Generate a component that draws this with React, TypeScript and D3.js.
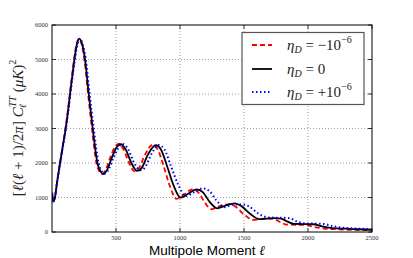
import React from "react";
import * as d3 from "d3";

const xTicks = [500, 1000, 1500, 2000, 2500];
const yTicks = [0, 1000, 2000, 3000, 4000, 5000, 6000];

const seriesMinus: [number, number][] = [[2,1150],[8,900],[20,960],[40,1470],[62,2000],[84,2500],[105,3000],[123,3500],[139,4000],[155,4500],[172,5000],[192,5450],[210,5600],[231,5450],[253,5000],[282,4000],[312,3000],[347,2000],[371,1750],[392,1680],[419,1800],[454,2150],[486,2430],[521,2560],[558,2400],[602,2000],[645,1760],[679,1850],[728,2250],[786,2530],[825,2400],[873,1900],[921,1330],[973,960],[1028,1080],[1098,1235],[1145,1140],[1193,860],[1246,660],[1305,740],[1387,810],[1435,730],[1503,500],[1572,350],[1630,375],[1690,390],[1738,370],[1785,285],[1834,215],[1900,210],[1980,205],[2050,145],[2125,100],[2230,80],[2330,65],[2500,50]];

const seriesZero: [number, number][] = [[2,1050],[8,880],[20,950],[40,1450],[63,2000],[85,2500],[107,3000],[125,3500],[141,4000],[158,4500],[175,5000],[195,5450],[214,5600],[235,5450],[258,5000],[287,4000],[318,3000],[355,2000],[380,1750],[402,1680],[430,1800],[467,2150],[500,2430],[537,2550],[575,2400],[620,2000],[665,1770],[700,1850],[750,2250],[810,2520],[850,2400],[900,1900],[950,1350],[1005,995],[1060,1100],[1130,1237],[1180,1150],[1230,880],[1290,687],[1350,760],[1430,832],[1480,750],[1550,520],[1620,375],[1680,390],[1740,400],[1790,385],[1840,300],[1890,235],[1960,230],[2040,225],[2110,160],[2190,115],[2300,95],[2400,80],[2500,65]];

const seriesPlus: [number, number][] = [[2,1100],[8,880],[20,950],[40,1430],[64,2000],[87,2500],[109,3000],[128,3500],[144,4000],[161,4500],[179,5000],[199,5450],[218,5600],[240,5450],[264,5000],[294,4000],[326,3000],[364,2000],[390,1750],[412,1690],[443,1820],[482,2160],[517,2430],[552,2550],[595,2400],[642,2000],[690,1790],[726,1870],[777,2260],[834,2520],[878,2400],[930,1900],[985,1380],[1045,1040],[1103,1140],[1180,1265],[1232,1180],[1283,920],[1350,720],[1410,790],[1490,800],[1540,740],[1610,540],[1690,420],[1750,415],[1810,410],[1860,395],[1910,310],[1965,255],[2040,245],[2120,235],[2190,175],[2270,125],[2380,100],[2450,90],[2500,80]];

const legendLabels = ["−10", "0", "+10"];

const L = 52, R = 372, T = 25, B = 232;

export default function App() {
  const x = d3.scaleLinear().domain([0, 2500]).range([L, R]);
  const y = d3.scaleLinear().domain([0, 6000]).range([B, T]);
  const line = d3.line<[number, number]>().x(d => x(d[0])).y(d => y(d[1])).curve(d3.curveMonotoneX);
  const tickFont = { fontFamily: "Liberation Serif, DejaVu Serif, serif", fontSize: 6.5, fill: "#333" };
  const mathFont = "Liberation Serif, DejaVu Serif, serif";
  const styles = [
    { color: "#ff0000", dash: "5,3", w: 1.8 },
    { color: "#000000", dash: "", w: 1.8 },
    { color: "#0000ff", dash: "1.5,2.5", w: 2 },
  ];
  const data = [seriesMinus, seriesZero, seriesPlus];
  const legendY = [45, 69, 92];
  return (
    <svg width={413} height={258} style={{ position: "absolute", left: 0, top: 0, background: "#fff" }}>
      <rect x={0} y={0} width={413} height={258} fill="#fff" />
      {xTicks.filter(t => t < 2500).map(t => (
        <line key={"gx" + t} x1={x(t)} x2={x(t)} y1={T} y2={B} stroke="#888" strokeWidth={0.8} strokeDasharray="1,2" />
      ))}
      {yTicks.filter(t => t > 0 && t < 6000).map(t => (
        <line key={"gy" + t} x1={L} x2={R} y1={y(t)} y2={y(t)} stroke="#888" strokeWidth={0.8} strokeDasharray="1,2" />
      ))}
      <defs>
        <clipPath id="clip"><rect x={L} y={T} width={R - L} height={B - T} /></clipPath>
      </defs>
      <g clipPath="url(#clip)">
        {data.map((d, i) => (
          <path key={i} d={line(d) || ""} fill="none" stroke={styles[i].color} strokeWidth={styles[i].w} strokeDasharray={styles[i].dash} />
        ))}
      </g>
      {xTicks.map(t => (
        <g key={"tx" + t}>
          <line x1={x(t)} x2={x(t)} y1={B} y2={B - 4} stroke="#000" strokeWidth={0.8} />
          <line x1={x(t)} x2={x(t)} y1={T} y2={T + 4} stroke="#000" strokeWidth={0.8} />
          <text x={x(t)} y={239.5} textAnchor="middle" {...tickFont}>{t}</text>
        </g>
      ))}
      {yTicks.map(t => (
        <g key={"ty" + t}>
          <line x1={L} x2={L + 4} y1={y(t)} y2={y(t)} stroke="#000" strokeWidth={0.8} />
          <line x1={R} x2={R - 4} y1={y(t)} y2={y(t)} stroke="#000" strokeWidth={0.8} />
          <text x={48} y={y(t) + 2.3} textAnchor="end" {...tickFont}>{t}</text>
        </g>
      ))}
      <rect x={L} y={T} width={R - L} height={B - T} fill="none" stroke="#000" strokeWidth={1} />
      <text x={207} y={254.5} textAnchor="middle" fontFamily="Liberation Sans, Arial, sans-serif" fontSize={13.5} fill="#000">
        Multipole Moment <tspan fontFamily={mathFont} fontStyle="italic">ℓ</tspan>
      </text>
      <text transform="translate(23,128) rotate(-90)" textAnchor="middle" fontFamily={mathFont} fontSize={15} fill="#222">
        <tspan>[</tspan><tspan fontStyle="italic">ℓ</tspan><tspan>(</tspan><tspan fontStyle="italic">ℓ</tspan><tspan> + 1)/2</tspan><tspan fontStyle="italic">π</tspan><tspan>] </tspan>
        <tspan fontStyle="italic">C</tspan>
        <tspan fontStyle="italic" fontSize={10} dy={-7}>TT</tspan>
        <tspan fontStyle="italic" fontSize={10} dx={-12} dy={10}>ℓ</tspan>
        <tspan dx={8} dy={-3}> (</tspan><tspan fontStyle="italic">μK</tspan><tspan>)</tspan>
        <tspan fontSize={10} dy={-7}>2</tspan>
      </text>
      <rect x={242} y={32.5} width={122} height={72} fill="#fff" stroke="#555" strokeWidth={1.2} />
      {styles.map((s, i) => (
        <g key={"lg" + i}>
          <line x1={252} x2={272} y1={legendY[i]} y2={legendY[i]} stroke={s.color} strokeWidth={s.w} strokeDasharray={s.dash} />
          <text x={287} y={legendY[i] + 4.5} fontFamily={mathFont} fontSize={15} fill="#222">
            <tspan fontStyle="italic">η</tspan>
            <tspan fontStyle="italic" fontSize={10} dy={3}>D</tspan>
            <tspan dy={-3}> = {legendLabels[i]}</tspan>
            {i !== 1 ? <tspan fontSize={10} dy={-7}>−6</tspan> : null}
          </text>
        </g>
      ))}
    </svg>
  );
}
